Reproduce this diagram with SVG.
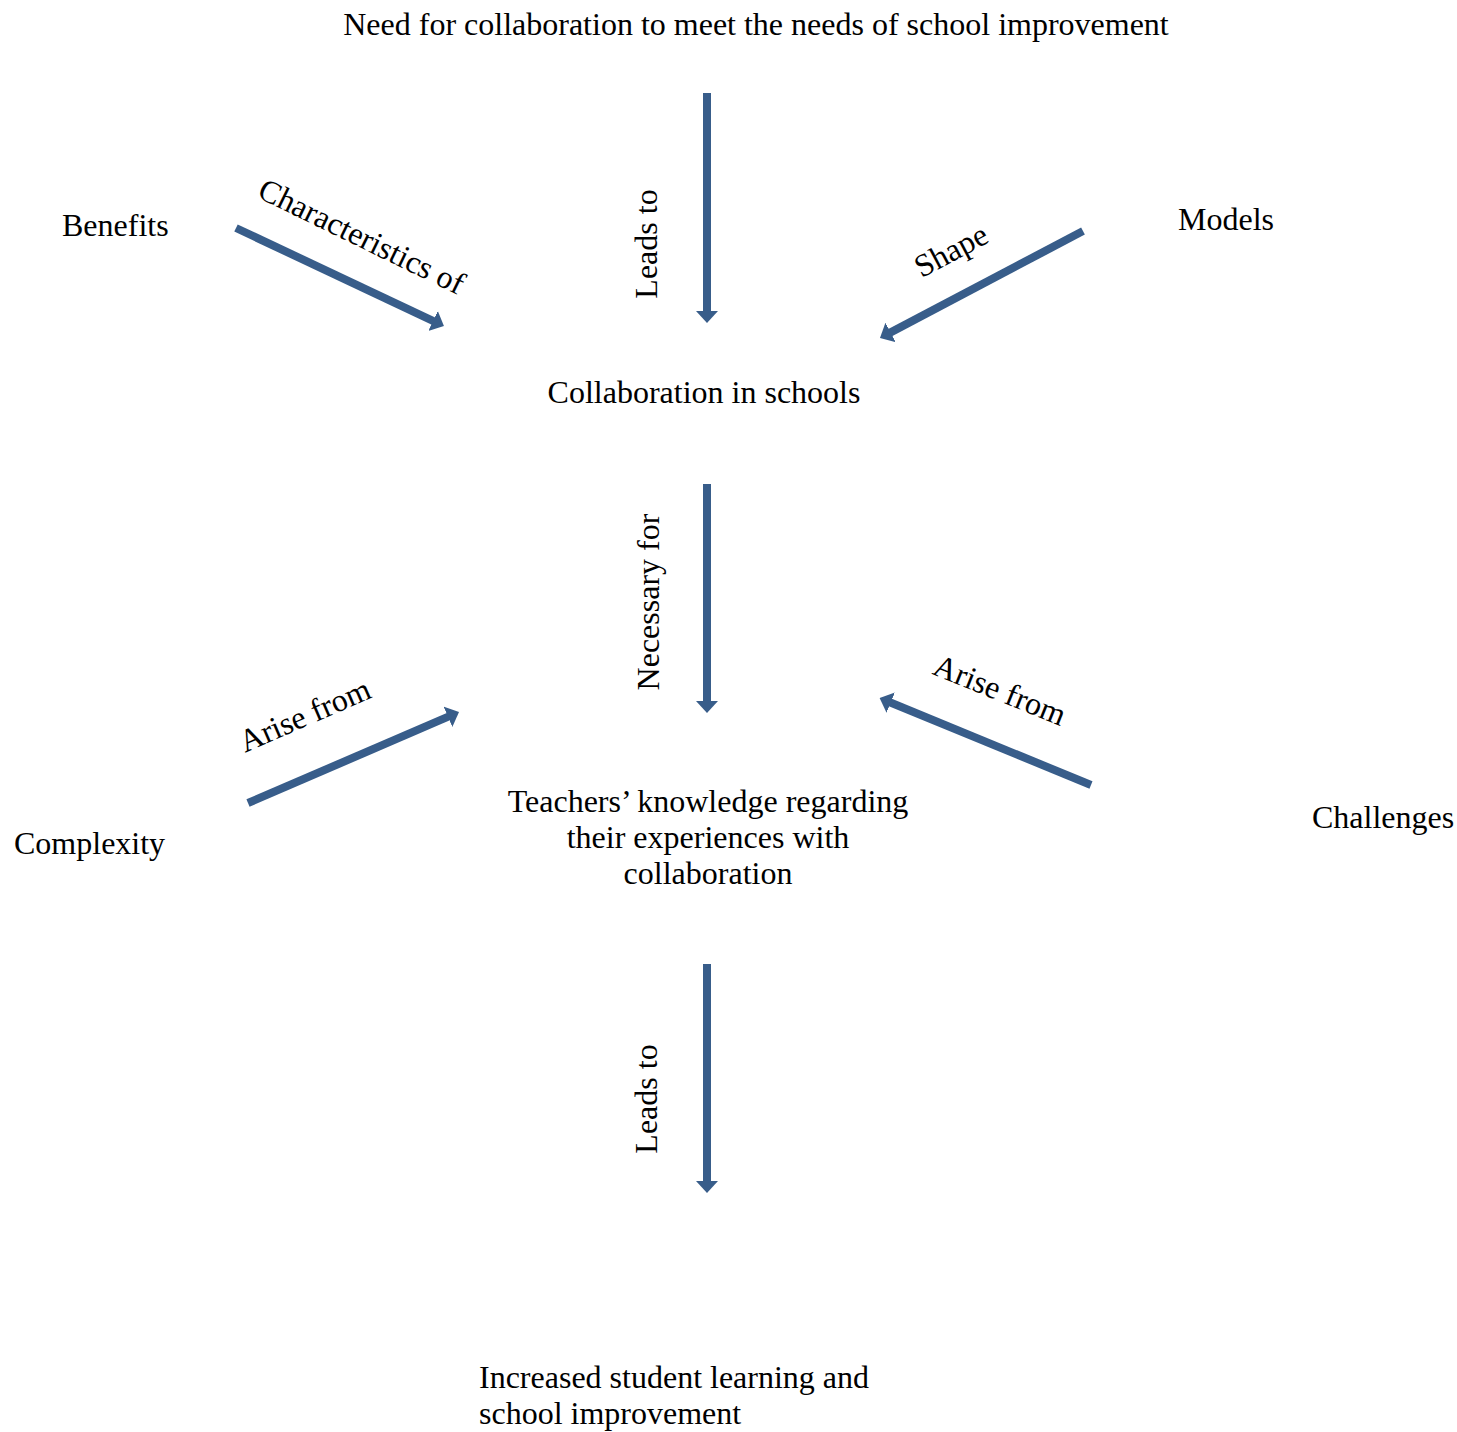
<svg xmlns="http://www.w3.org/2000/svg" width="1457" height="1432" viewBox="0 0 1457 1432">
<style>
text{font-family:"Liberation Serif","Times New Roman",serif;font-size:32px;fill:#000}
.c{text-anchor:middle}
.conn line{stroke:#385D8A;stroke-width:8;fill:none;marker-end:url(#ah)}
</style>
<defs>
<marker id="ah" markerUnits="userSpaceOnUse" markerWidth="12" markerHeight="22" viewBox="0 0 12 22" refX="1" refY="11" orient="auto">
<path d="M0,0 L12,11 L0,22 z" fill="#385D8A"/>
</marker>
</defs>
<rect width="1457" height="1432" fill="#fff"/>
<g id="need"><text class="c" x="756" y="35">Need for collaboration to meet the needs of school improvement</text></g>
<g id="benefits"><text x="62" y="236">Benefits</text></g>
<g id="models"><text x="1178" y="230">Models</text></g>
<g id="collab"><text class="c" x="704" y="403">Collaboration in schools</text></g>
<g id="teachers"><text class="c" x="708" y="812">Teachers’ knowledge regarding</text><text class="c" x="708" y="848">their experiences with</text><text class="c" x="708" y="884">collaboration</text></g>
<g id="complexity"><text x="14" y="854">Complexity</text></g>
<g id="challenges"><text x="1312" y="828">Challenges</text></g>
<g id="increased"><text x="479" y="1388">Increased student learning and</text><text x="479" y="1424">school improvement</text></g>
<g class="conn" id="connectors">
<line x1="707" y1="93" x2="707" y2="312"/>
<line x1="707" y1="484" x2="707" y2="702"/>
<line x1="707" y1="964" x2="707" y2="1182"/>
<line x1="236" y1="228" x2="434" y2="321.3"/>
<line x1="1083" y1="231" x2="889.7" y2="332.9"/>
<line x1="248" y1="803" x2="448.9" y2="716.4"/>
<line x1="1091" y1="785" x2="889.8" y2="702.2"/>
<text class="c" transform="translate(657,244) rotate(-90)">Leads to</text>
<text class="c" transform="translate(659,602) rotate(-90)">Necessary for</text>
<text class="c" transform="translate(657,1099) rotate(-90)">Leads to</text>
<text class="c" transform="translate(357,246) rotate(26)">Characteristics of</text>
<text class="c" transform="translate(956,260) rotate(-28)">Shape</text>
<text class="c" transform="translate(309,725) rotate(-23.5)">Arise from</text>
<text class="c" transform="translate(996,700) rotate(22)">Arise from</text>
</g>
</svg>
